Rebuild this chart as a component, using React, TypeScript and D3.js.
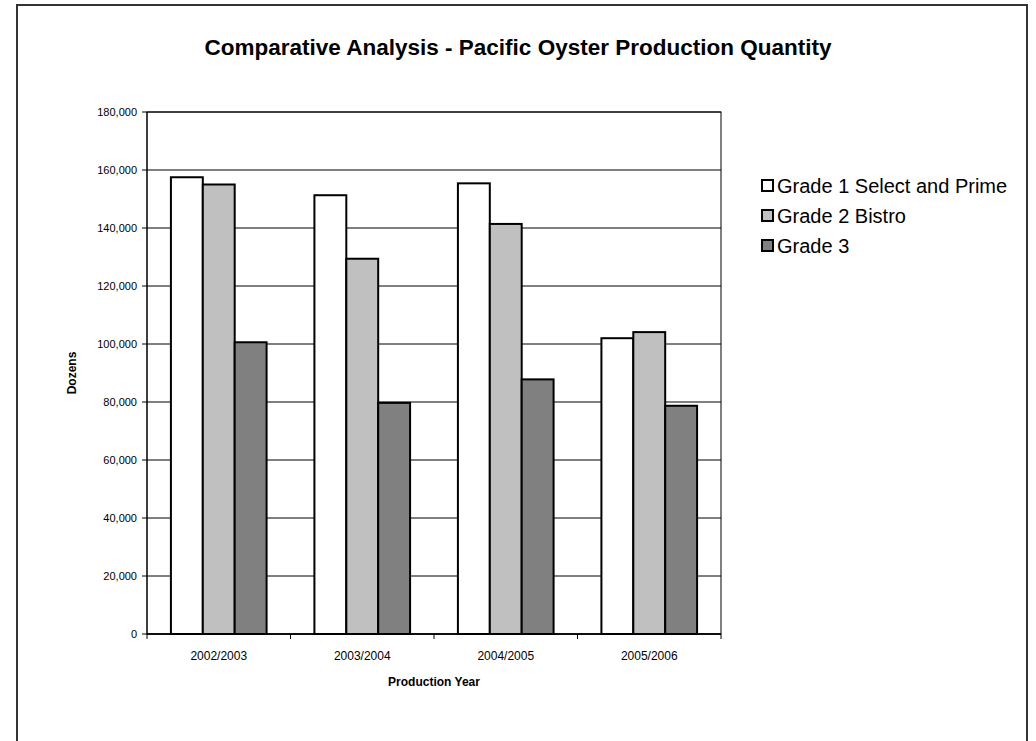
import React from "react";
import * as d3 from "d3";

const categories = ["2002/2003", "2003/2004", "2004/2005", "2005/2006"];
const seriesNames = ["Grade 1 Select and Prime", "Grade 2 Bistro", "Grade 3"];
const grade1 = [157500, 151300, 155400, 102000];
const grade2 = [155000, 129400, 141400, 104100];
const grade3 = [100600, 79700, 87800, 78700];
const seriesColors = ["#FFFFFF", "#C0C0C0", "#808080"];
const yTicks = [0, 20000, 40000, 60000, 80000, 100000, 120000, 140000, 160000, 180000];

const W = 1036;
const H = 741;
const FONT = "'Liberation Sans', Arial, sans-serif";

export default function App() {
  const left = 147;
  const right = 721;
  const top = 112;
  const bottom = 634;
  const series = [grade1, grade2, grade3];

  const x = d3.scaleBand<string>().domain(categories).range([left, right]).paddingInner(0).paddingOuter(0);
  const inner = d3
    .scaleBand<number>()
    .domain([0, 1, 2])
    .range([0, x.bandwidth()])
    .paddingInner(0)
    .paddingOuter(0.75);
  const y = d3.scaleLinear().domain([0, 180000]).range([bottom, top]);
  const fmt = d3.format(",");

  return (
    <svg width={W} height={H} style={{ position: "absolute", left: 0, top: 0, background: "#fff" }}>
      <rect x={0} y={0} width={W} height={H} fill="#fff" />
      <rect x={17} y={5} width={1010} height={H + 20} fill="#fff" stroke="#333" strokeWidth={2} />
      <text x={518} y={55} textAnchor="middle" fontFamily={FONT} fontWeight="bold" fontSize={22.5}>
        Comparative Analysis - Pacific Oyster Production Quantity
      </text>

      {/* gridlines */}
      {yTicks.map((t) => (
        <line key={"g" + t} x1={left} x2={right} y1={y(t)} y2={y(t)} stroke="#000" strokeWidth={1} />
      ))}
      <rect x={left} y={top} width={right - left} height={bottom - top} fill="none" stroke="#000" strokeWidth={1} />

      {/* bars */}
      {categories.map((c, i) =>
        series.map((s, k) => (
          <rect
            key={c + k}
            x={(x(c) as number) + (inner(k) as number)}
            y={y(s[i])}
            width={inner.bandwidth()}
            height={bottom - y(s[i])}
            fill={seriesColors[k]}
            stroke="#000"
            strokeWidth={2}
          />
        ))
      )}

      {/* axes */}
      <line x1={left} x2={left} y1={top} y2={bottom} stroke="#000" strokeWidth={1} />
      <line x1={left} x2={right} y1={bottom} y2={bottom} stroke="#000" strokeWidth={1.5} />
      {yTicks.map((t) => (
        <g key={"yt" + t}>
          <line x1={left - 5} x2={left} y1={y(t)} y2={y(t)} stroke="#000" />
          <text x={left - 10} y={y(t) + 4} textAnchor="end" fontFamily={FONT} fontSize={11}>
            {fmt(t)}
          </text>
        </g>
      ))}
      {[...categories.map((c) => x(c) as number), right].map((v, i) => (
        <line key={"xt" + i} x1={v} x2={v} y1={bottom} y2={bottom + 5} stroke="#000" />
      ))}
      {categories.map((c) => (
        <text
          key={"xl" + c}
          x={(x(c) as number) + x.bandwidth() / 2}
          y={660}
          textAnchor="middle"
          fontFamily={FONT}
          fontSize={12}
        >
          {c}
        </text>
      ))}
      <text x={(left + right) / 2} y={686} textAnchor="middle" fontFamily={FONT} fontWeight="bold" fontSize={12}>
        Production Year
      </text>
      <text
        transform={`translate(76, ${(top + bottom) / 2}) rotate(-90)`}
        textAnchor="middle"
        fontFamily={FONT}
        fontWeight="bold"
        fontSize={12}
      >
        Dozens
      </text>

      {/* legend */}
      {seriesNames.map((n, k) => (
        <g key={"lg" + k}>
          <rect x={762} y={180 + k * 30} width={11} height={11} fill={seriesColors[k]} stroke="#000" strokeWidth={2} />
          <text x={777} y={193 + k * 30} fontFamily={FONT} fontSize={20}>
            {n}
          </text>
        </g>
      ))}
    </svg>
  );
}
